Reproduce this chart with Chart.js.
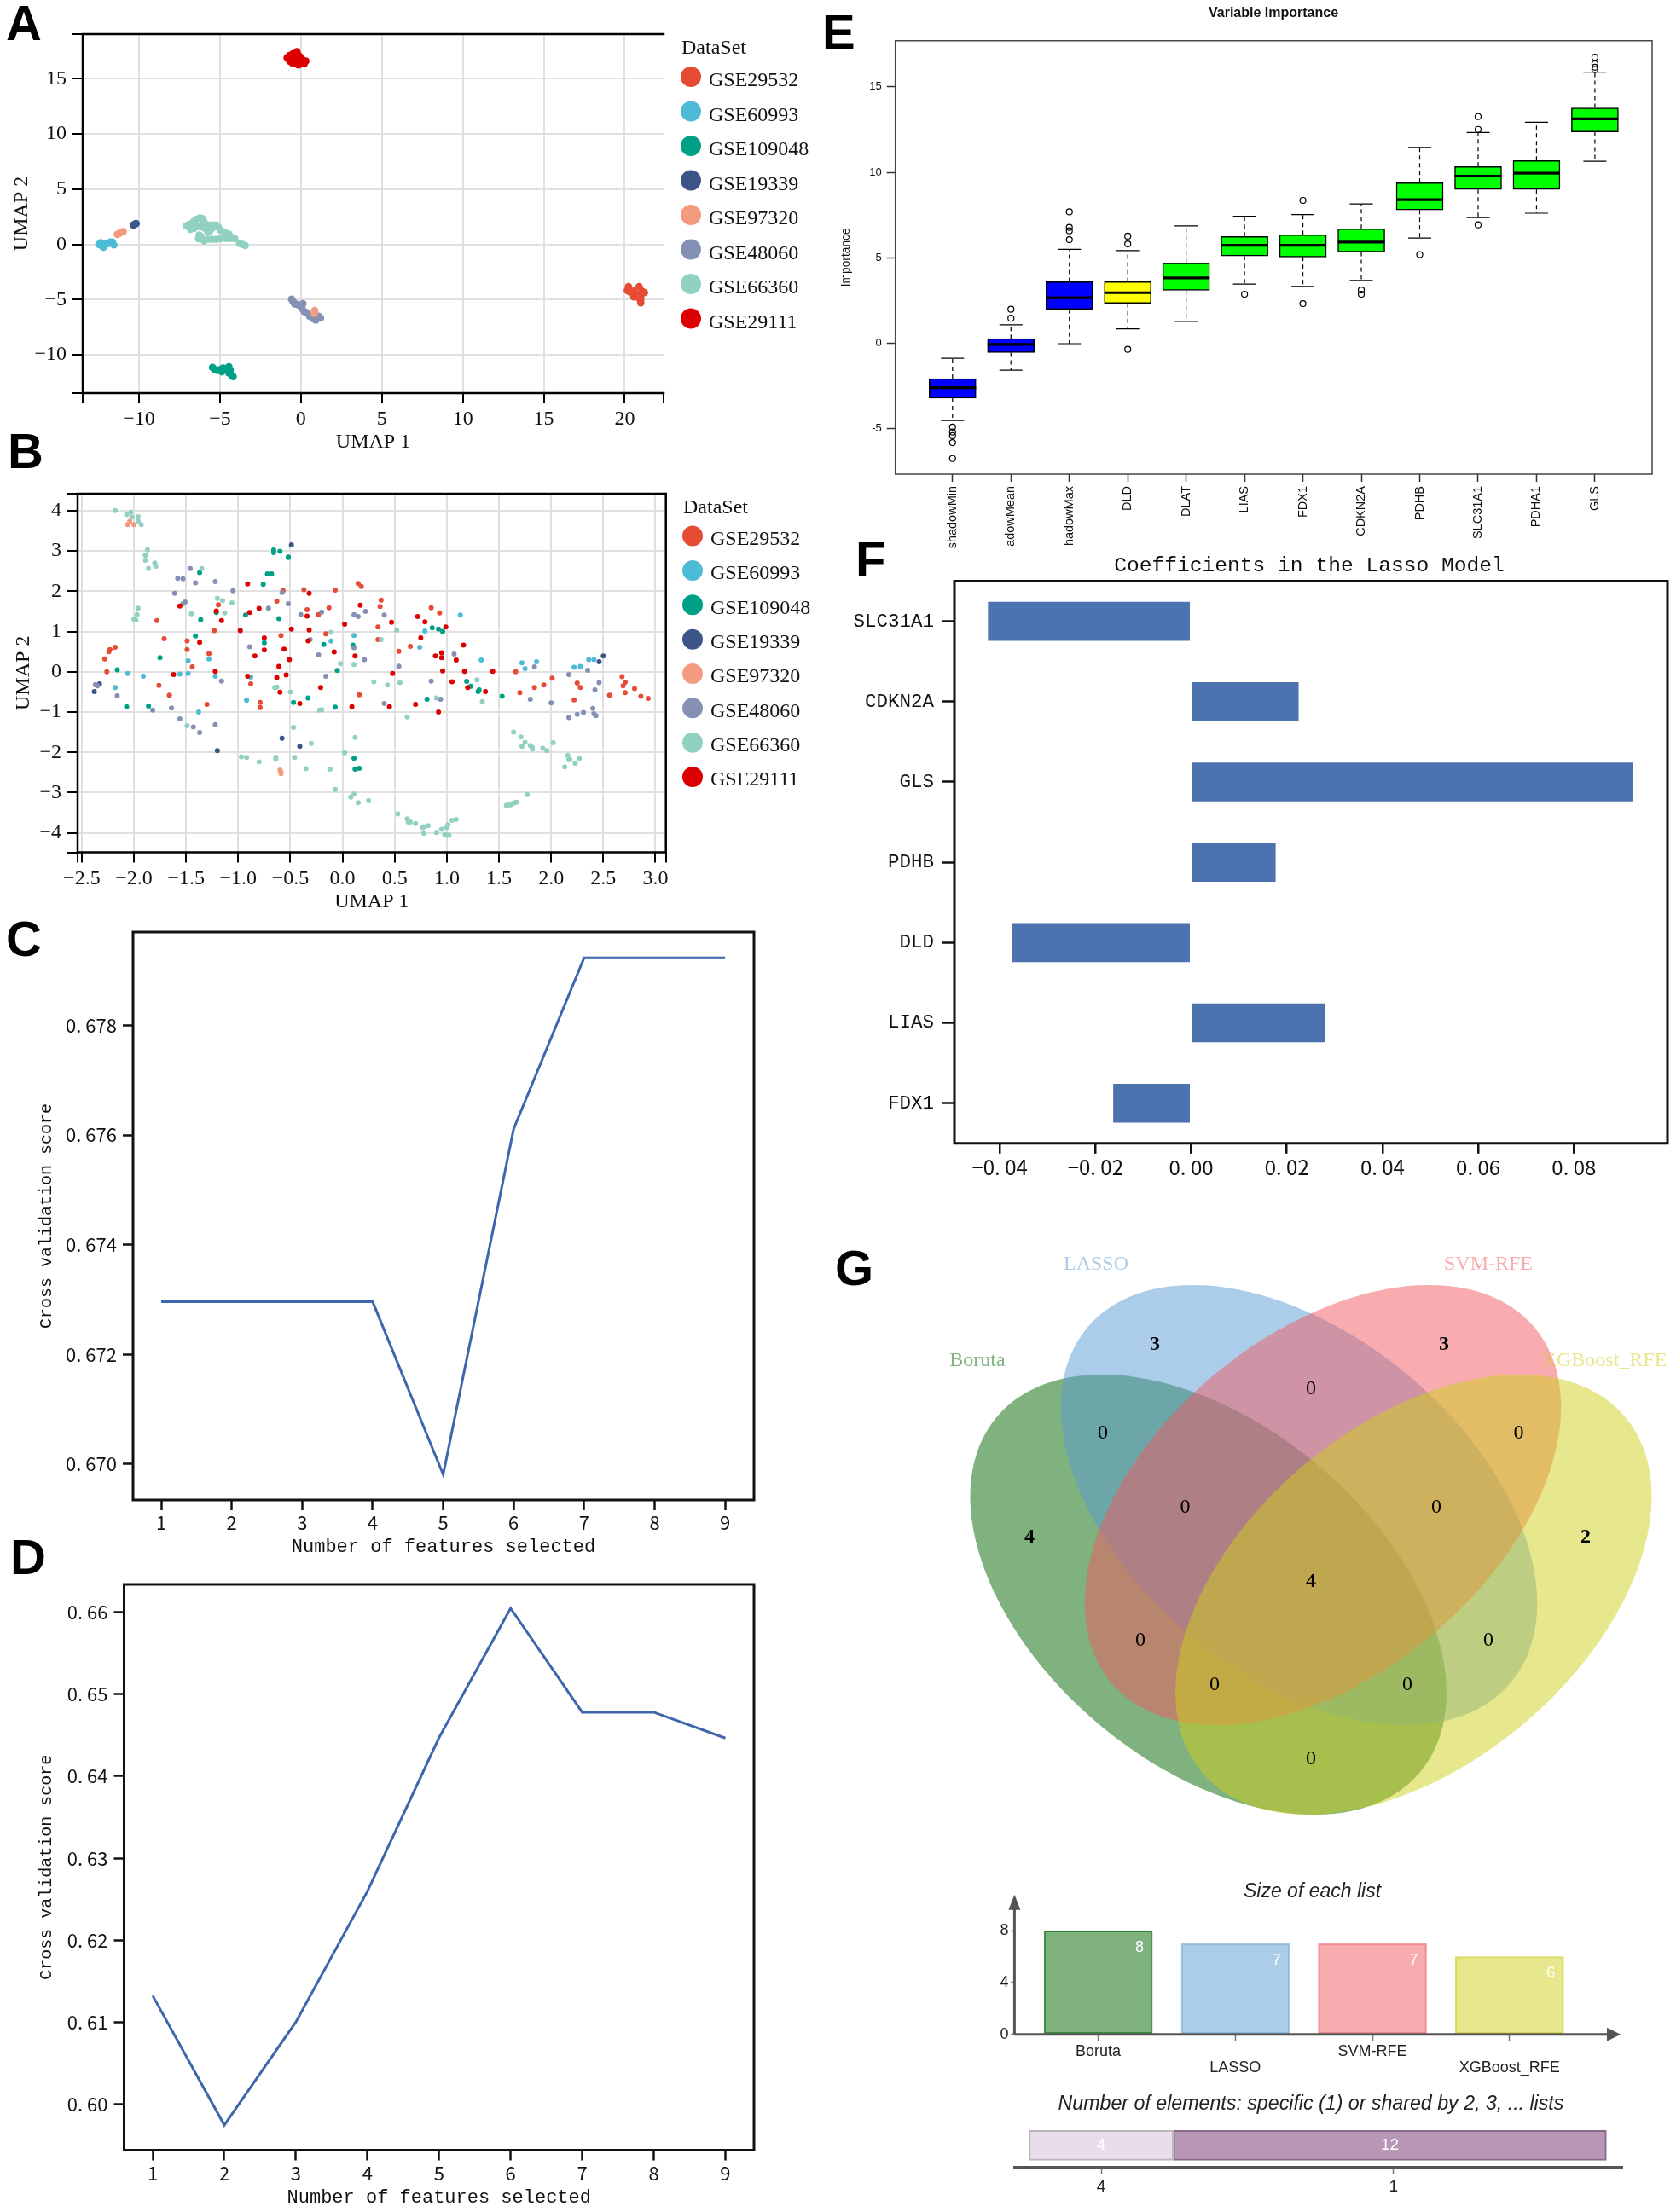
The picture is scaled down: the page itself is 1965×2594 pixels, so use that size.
<!DOCTYPE html>
<html>
<head>
<meta charset="utf-8">
<script src="https://cdn.jsdelivr.net/npm/chart.js@4"></script>
<style>
  html, body { margin: 0; padding: 0; background: #fff; }
  #page { position: relative; width: 1965px; height: 2594px; overflow: hidden; }
  canvas { position: absolute; }
  .tag { position: absolute; font: bold 58px/58px "Liberation Sans", Arial, sans-serif; color: #000; }
</style>
</head>
<body>
<div id="page"></div>
<script>
// ---- data: panel A (UMAP before batch correction)
const dataSets = ['GSE29532', 'GSE60993', 'GSE109048', 'GSE19339', 'GSE97320', 'GSE48060', 'GSE66360', 'GSE29111'];
const a29532 = [[20.23,-3.83],[20.16,-4.18],[20.56,-4.23],[20.89,-3.83],[21.05,-4.23],[21.22,-4.36],[20.56,-4.76],[20.89,-4.89],[20.99,-5.29],[20.7,-4.5],[21.0,-4.6],[20.99,-5.0],[20.3,-4.3]];
const a60993 = [[-12.48,0],[-12.37,0.15],[-12.27,-0.18],[-12.2,-0.25],[-12.09,0.08],[-11.95,0.05],[-11.77,0.2],[-11.65,0.2],[-11.56,-0.05],[-12.2,0.02]];
const a109048 = [[-5.46,-11.15],[-5.33,-11.33],[-5.16,-11.41],[-4.98,-11.33],[-4.81,-11.2],[-4.63,-11.28],[-4.45,-11.08],[-4.37,-11.38],[-4.45,-11.64],[-4.28,-11.85],[-4.19,-11.97],[-4.89,-11.54]];
const a19339 = [[-10.35,1.75],[-10.26,1.83],[-10.18,1.88]];
const a97320 = [[-11.34,0.9],[-11.21,1.0],[-11.07,1.11],[-10.98,1.16],[0.85,-6.0],[0.83,-6.26]];
const a48060 = [[-0.58,-4.97],[-0.49,-5.18],[-0.4,-5.38],[-0.23,-5.44],[-0.05,-5.56],[0.12,-5.38],[0.07,-5.82],[0.21,-6.08],[0.39,-6.21],[0.53,-6.51],[0.74,-6.72],[0.92,-6.67],[1.09,-6.51],[1.21,-6.67],[0.92,-6.85]];
const a66360 = [[-7.08,1.67],[-6.91,1.8],[-6.64,2.06],[-6.47,2.26],[-6.26,2.39],[-6.1,2.34],[-6.01,2.11],[-5.91,1.88],[-5.76,1.75],[-5.5,1.75],[-5.24,1.75],[-5.1,1.54],[-4.97,1.29],[-4.71,1.11],[-4.45,0.93],[-4.22,0.59],[-4.09,0.51],[-6.82,1.36],[-6.56,1.62],[-6.29,1.62],[-6.03,1.54],[-5.85,1.36],[-5.73,1.11],[-6.61,1.44],[-6.29,0.85],[-6.33,0.51],[-6.17,0.72],[-5.98,0.33],[-5.76,0.46],[-5.5,0.46],[-5.24,0.46],[-4.97,0.51],[-4.62,0.54],[-4.36,0.54],[-5.41,1.54],[-5.59,1.29],[-3.78,0.08],[-3.62,0],[-3.44,-0.1]];
const a29111 = [[-0.85,16.9],[-0.7,16.6],[-0.7,17.1],[-0.55,16.45],[-0.5,16.85],[-0.5,17.25],[-0.3,16.4],[-0.3,16.8],[-0.3,17.2],[-0.25,17.45],[-0.1,16.65],[-0.1,17.05],[0.05,16.4],[0.05,16.8],[0.2,16.35],[0.3,16.6],[-0.15,16.25],[0.1,16.6],[-0.6,16.7],[-0.4,17.0]];

// ---- data: panel B (UMAP after batch correction)
const b29532 = [[0.15,2.19],[0.18,2.12],[-0.57,2.01],[-0.37,2.04],[-0.07,2.03],[-0.63,1.75],[-1.19,1.66],[-0.34,1.54],[-0.13,1.59],[-0.23,1.42],[-1.78,1.27],[-1.23,1.02],[-0.16,0.94],[-0.59,0.9],[-1.71,0.82],[-1.49,0.77],[-1.49,0.55],[-2.18,0.61],[-2.23,0.55],[-2.24,0.5],[-2.28,0.32],[-2.26,0],[-1.28,0.45],[-1.44,0.12],[-0.88,-0.3],[-1.76,-0.34],[-1.66,-0.58],[-1.3,-0.81],[-0.79,-0.76],[-0.79,-0.89],[0.16,-0.57],[0.37,1.78],[0.36,1.62],[0.34,1.11],[0.34,0.8],[0.85,1.59],[0.93,1.46],[0.65,0.63],[0.54,0.51],[1.66,0],[2.01,-0.16],[1.93,-0.33],[1.84,-0.39],[1.7,-0.52],[2.22,-0.7],[2.25,-0.28],[2.28,-0.39],[2.56,-0.58],[2.68,-0.12],[2.71,-0.26],[2.69,-0.35],[2.71,-0.52],[2.8,-0.42],[2.86,-0.61],[2.93,-0.66]];
const b60993 = [[0.11,0.9],[-0.11,0.76],[-1.48,0.27],[-1.28,0.32],[-1.56,-0.06],[-1.48,-0.04],[-2.06,-0.04],[-1.91,-0.11],[-1.22,-0.11],[-0.88,-0.13],[-2.18,-0.39],[-0.92,-0.71],[-1.38,-1.0],[1.13,1.41],[0.79,1.01],[0.74,0.61],[1.33,0.29],[1.72,0.22],[1.75,0.08],[1.86,0.25],[2.22,0.11],[2.28,0.13],[2.36,0.3],[2.41,0.3]];
const b109048 = [[-0.66,3.02],[-0.66,2.96],[-0.6,2.99],[-0.52,2.85],[-0.52,2.84],[-0.72,2.43],[-0.68,2.43],[-0.76,2.17],[-1.37,2.46],[-0.93,1.41],[-0.61,1.32],[-1.21,1.47],[-1.36,1.29],[-1.41,0.89],[-0.75,0.72],[-0.18,0.68],[0.1,0.66],[-1.75,0.35],[-0.05,0.03],[-2.16,0.05],[-0.47,-0.76],[-0.33,-0.65],[-0.07,-0.88],[-2.07,-0.87],[-1.86,-0.85],[0.11,-2.15],[0.12,-2.42],[0.16,-2.4],[0.86,1.09],[0.92,1.06],[0.96,1.0],[1.19,-0.24],[1.23,-0.36],[1.31,-0.45],[1.3,-0.49],[1.53,-0.61],[0.81,-0.68]];
const b19339 = [[-0.49,3.15],[-2.33,-0.3],[-2.38,-0.49],[-0.58,-1.65],[-0.41,-1.85],[-1.2,-1.96],[2.5,0.39],[2.46,0.25]];
const b97320 = [[-2.06,3.65],[-2.04,3.73],[-2.0,3.65],[-0.6,-2.44],[-0.59,-2.49],[-0.59,-2.53]];
const b48060 = [[-1.46,2.56],[-1.58,2.32],[-1.53,2.31],[-1.41,2.21],[-1.22,2.24],[-1.05,2.01],[-1.61,1.95],[-1.51,1.73],[-1.53,1.69],[-0.58,1.97],[-0.52,1.69],[-0.71,1.58],[-0.4,1.42],[-0.2,1.48],[0.11,1.42],[0.15,1.37],[0.22,1.5],[-0.31,0.8],[-0.89,0.62],[0.11,0.6],[-0.23,0.42],[0.21,0.3],[-0.16,-0.11],[-1.16,-0.23],[-2.37,-0.32],[-2.35,-0.35],[-2.16,-0.6],[-1.82,-0.95],[-1.64,-0.9],[-1.56,-1.17],[-1.43,-1.37],[-1.37,-1.51],[-1.22,-1.31],[0.4,1.41],[1.07,0.44],[0.54,0.14],[0.85,-0.23],[0.4,-0.79],[0.94,-0.68],[1.84,0.12],[2.17,-0.07],[2.35,0.04],[2.46,-0.27],[2.42,-0.45],[1.8,-0.68],[2.0,-0.77],[2.17,-1.14],[2.25,-1.06],[2.31,-1.01],[2.4,-0.91],[2.41,-1.04],[2.43,-1.09]];
const b66360 = [[-2.18,4.0],[-2.07,3.9],[-2.03,3.96],[-2.02,3.84],[-1.96,3.85],[-1.96,3.74],[-1.93,3.65],[-1.87,3.03],[-1.89,2.89],[-1.89,2.77],[-1.8,2.7],[-1.79,2.62],[-1.86,2.56],[-1.35,2.56],[-1.96,1.58],[-1.97,1.42],[-2.0,1.31],[-1.98,1.28],[-1.45,1.44],[-1.2,1.82],[-1.15,1.77],[-1.06,1.71],[-1.13,1.46],[-0.11,0.98],[-0.02,0.2],[0.11,0.18],[-0.5,-0.5],[-0.65,-0.39],[-0.63,-0.38],[-0.22,-0.95],[-0.2,-0.94],[-0.47,-1.38],[-1.49,-1.34],[0.12,-1.63],[-0.3,-1.78],[0.02,-2.01],[-0.46,-2.13],[-0.97,-2.11],[-0.92,-2.13],[-0.8,-2.24],[-0.64,-2.12],[-0.64,-2.17],[-0.35,-2.41],[-0.12,-2.42],[-0.07,-2.92],[0.08,-3.11],[0.11,-3.04],[0.15,-3.25],[0.52,1.03],[0.37,0.8],[0.3,-0.25],[0.43,-0.33],[0.55,-0.27],[0.9,-0.65],[0.62,-1.12],[1.29,-0.2],[1.34,-0.74],[0.25,-3.2],[1.64,-1.5],[1.71,-1.62],[1.75,-1.75],[1.72,-1.85],[1.8,-1.83],[1.82,-1.88],[1.82,-1.92],[1.92,-1.9],[1.96,-1.96],[2.02,-1.76],[2.16,-2.08],[2.18,-2.18],[2.17,-2.18],[2.23,-2.27],[2.13,-2.36],[2.27,-2.15],[1.77,-3.05],[1.57,-3.32],[1.59,-3.31],[1.61,-3.3],[1.63,-3.27],[1.65,-3.25],[1.67,-3.24],[0.53,-3.53],[0.62,-3.65],[0.63,-3.73],[0.65,-3.73],[0.7,-3.77],[0.78,-3.85],[0.77,-3.87],[0.82,-3.82],[0.78,-4.01],[0.9,-3.99],[0.95,-3.91],[1.0,-3.87],[1.01,-3.8],[1.05,-3.69],[1.09,-3.67],[0.98,-4.04],[1.0,-4.06],[1.02,-4.06]];
const b29111 = [[-0.91,2.18],[-0.32,1.95],[-1.56,1.63],[-1.21,1.51],[-1.16,1.27],[-0.89,1.47],[-0.8,1.57],[-0.34,1.38],[0.17,1.65],[0.02,1.18],[-0.98,1.02],[-0.49,1.06],[-0.32,1.04],[-0.75,0.84],[-0.33,0.77],[-1.37,0.73],[-0.75,0.54],[-0.56,0.56],[-0.08,0.49],[0.12,0.39],[-0.84,0.39],[-0.51,0.3],[-0.61,0.13],[-1.22,0.01],[-1.62,-0.07],[-0.91,-0.11],[-0.63,-0.14],[-0.54,-0.08],[-0.21,-0.39],[-0.6,-0.51],[-0.41,-0.79],[0.09,-0.87],[0.47,1.23],[0.72,1.37],[0.79,1.24],[0.99,1.11],[0.75,0.84],[1.16,0.66],[0.95,0.47],[0.89,0.39],[0.95,0.35],[1.09,0.29],[0.96,0.02],[1.17,0.01],[1.44,0.01],[0.48,-0.04],[1.05,-0.25],[1.2,-0.39],[1.37,-0.49],[0.45,-0.87],[0.7,-0.81],[0.92,-1.0]];

// ---- data: panels C and D (cross validation curves)
const featureCounts = [1, 2, 3, 4, 5, 6, 7, 8, 9];
const cvScoresC = [0.67296, 0.67296, 0.67296, 0.67296, 0.66981, 0.67611, 0.67923, 0.67923, 0.67923];
const cvScoresD = [0.61324, 0.59747, 0.61004, 0.62597, 0.6447, 0.66048, 0.6478, 0.6478, 0.64465];
const cvTicksC = [0.670, 0.672, 0.674, 0.676, 0.678];
const cvTicksD = [0.60, 0.61, 0.62, 0.63, 0.64, 0.65, 0.66];

// ---- data: panel E (Boruta importance boxes)
const boxNames = ['shadowMin', 'adowMean', 'hadowMax', 'DLD', 'DLAT', 'LIAS', 'FDX1', 'CDKN2A', 'PDHB', 'SLC31A1', 'PDHA1', 'GLS'];
const boxWhiskLow = [-4.51, -1.57, -0.02, 0.85, 1.28, 3.47, 3.33, 3.68, 6.16, 7.36, 7.61, 10.65];
const boxQ1 = [-3.21, -0.54, 1.99, 2.34, 3.1, 5.11, 5.05, 5.34, 7.8, 9.0, 9.0, 12.37];
const boxMedian = [-2.59, -0.06, 2.67, 2.96, 3.83, 5.73, 5.73, 5.92, 8.4, 9.78, 9.95, 13.13];
const boxQ3 = [-2.07, 0.27, 3.6, 3.6, 4.69, 6.25, 6.35, 6.7, 9.39, 10.34, 10.69, 13.77];
const boxWhiskHigh = [-0.87, 1.08, 5.5, 5.42, 6.87, 7.43, 7.53, 8.15, 11.46, 12.33, 12.93, 15.86];
const boxColors = ['#0000ff', '#0000ff', '#0000ff', '#ffff00', '#00ff00', '#00ff00', '#00ff00', '#00ff00', '#00ff00', '#00ff00', '#00ff00', '#00ff00'];
const boxOutliers = [[-4.9,-5.19,-5.4,-5.81,-6.74],[1.99,1.47],[7.69,6.78,6.58,6.06],[6.27,5.81,-0.35],[],[2.87],[8.36,2.32],[3.12,2.87],[5.19],[13.26,12.51,6.93],[],[16.73,16.34,16.15,16.01]];

// ---- data: panel F (lasso coefficients)
const lassoGenes = ['SLC31A1', 'CDKN2A', 'GLS', 'PDHB', 'DLD', 'LIAS', 'FDX1'];
const lassoCoefs = [-0.0424, 0.0224, 0.09234, 0.0176, -0.03737, 0.02789, -0.01623];
const lassoTicks = [-0.04, -0.02, 0, 0.02, 0.04, 0.06, 0.08];

// ---- data: panel G (venn + the two small bar charts)
const vennNames = ['Boruta', 'LASSO', 'SVM-RFE', 'XGBoost_RFE'];
const vennColors = ['#006600', '#5a9bd4', '#f15a60', '#cfcf1b'];
const vennRegionCounts = [3, 3, 0, 0, 0, 0, 0, 4, 2, 4, 0, 0, 0, 0, 0];
const listSizes = [8, 7, 7, 6];
const sharedByLists = ['4', '1'];
const sharedCounts = [4, 12];

// ---- layout of the figure (page pixels)
const vennEllipses = [[1416.7, 1870, 40], [1523, 1765, 40], [1551, 1765, -40], [1657.3, 1870, -40]];
const vennRegionX = [1354, 1693, 1537, 1293, 1780.5, 1389.5, 1684, 1207, 1859, 1537, 1337, 1745, 1424, 1650, 1537];
const vennRegionY = [1577, 1577, 1629, 1681, 1681, 1768, 1768, 1803, 1803, 1855, 1924, 1924, 1976, 1976, 2063];
const vennLabelPos = [[1146, 1596], [1285, 1483], [1745, 1483], [1881, 1596]];
const panelTags = [['A', 7, -2], ['B', 9, 500], ['C', 7, 1072], ['D', 12, 1797], ['E', 964, 9], ['F', 1003, 627], ['G', 979, 1458]];

const npgColors = ['#E64B35', '#4DBBD5', '#00A087', '#3C5488', '#F39B7F', '#8491B4', '#91D1C2', '#DC0000'];
const SERIF = '"Liberation Serif", "Times New Roman", serif';
const SANS = '"Liberation Sans", Arial, sans-serif';
const MONO = '"Liberation Mono", monospace';
const CJK = '"Noto Sans CJK SC", sans-serif';

Chart.defaults.animation = false;
Chart.defaults.color = '#111';

// Draws text / legend dots given in page coordinates on top of the chart
const annotate = {
  id: 'annotate',
  afterDraw(chart, args, opts) {
    const ctx = chart.ctx;
    const box = opts.box;
    (opts.items || []).forEach(it => {
      ctx.save();
      if (it.dot) {
        ctx.fillStyle = it.dot;
        ctx.beginPath();
        ctx.arc(it.x - box.x, it.y - box.y, it.r, 0, Math.PI * 2);
        ctx.fill();
      } else {
        ctx.font = it.font;
        ctx.fillStyle = it.color || '#111';
        ctx.textAlign = it.align || 'center';
        ctx.textBaseline = 'middle';
        ctx.fillText(it.text, it.x - box.x, it.y - box.y);
      }
      ctx.restore();
    });
  }
};

// Axis frame around the plot area; sides is a string out of 'ltrb'
const frame = {
  id: 'frame',
  afterDraw(chart, args, opts) {
    if (!opts.sides) return;
    const { left, right, top, bottom } = chart.chartArea;
    const ctx = chart.ctx;
    ctx.save();
    ctx.strokeStyle = opts.color;
    ctx.lineWidth = opts.width;
    ctx.lineCap = 'square';
    ctx.beginPath();
    if (opts.sides.includes('l')) { ctx.moveTo(left, top); ctx.lineTo(left, bottom); }
    if (opts.sides.includes('r')) { ctx.moveTo(right, top); ctx.lineTo(right, bottom); }
    if (opts.sides.includes('t')) { ctx.moveTo(left, top); ctx.lineTo(right, top); }
    if (opts.sides.includes('b')) { ctx.moveTo(left, bottom); ctx.lineTo(right, bottom); }
    ctx.stroke();
    ctx.restore();
  }
};
Chart.register(annotate, frame);

function makeCanvas(box) {
  const c = document.createElement('canvas');
  c.width = box.w;
  c.height = box.h;
  c.style.left = box.x + 'px';
  c.style.top = box.y + 'px';
  c.style.width = box.w + 'px';
  c.style.height = box.h + 'px';
  document.getElementById('page').appendChild(c);
  return c;
}

// Forces the plot area of a chart onto a given rectangle of the page
function baseOptions(box, plot) {
  return {
    responsive: false,
    devicePixelRatio: 1,
    layout: {
      autoPadding: false,
      padding: { left: 0, top: plot.y - box.y, right: box.x + box.w - plot.x - plot.w, bottom: 0 }
    },
    plugins: { legend: { display: false }, tooltip: { enabled: false }, title: { display: false } }
  };
}
const fitY = (box, plot) => s => { s.width = plot.x - box.x; };
const fitX = (box, plot) => s => { s.height = box.y + box.h - plot.y - plot.h; };

function toPoints(pairs) { return pairs.map(p => ({ x: p[0], y: p[1] })); }
function fmtMinus(v, digits) { return (v < 0 ? '\u2212' : '') + Math.abs(v).toFixed(digits); }

// ---- panels A, B
function umapPanel(cfg) {
  const { box, plot, series, xr, yr, xticks, yticks, digits } = cfg;
  const makeScale = (range, ticks, axisDigits) => ({
    type: 'linear', min: range[0], max: range[1],
    afterBuildTicks: s => { s.ticks = [range[0], ...ticks, range[1]].map(v => ({ value: v })); },
    border: { display: false },
    grid: {
      lineWidth: 2, tickWidth: 2, tickLength: 12, tickColor: '#000',
      color: c => (c.tick && ticks.includes(c.tick.value) ? '#e0e0e0' : 'transparent')
    },
    ticks: {
      autoSkip: false, maxRotation: 0, color: '#111',
      font: { family: SERIF, size: 24, lineHeight: 1 },
      padding: 7,
      callback: v => (ticks.includes(v) ? fmtMinus(v, axisDigits) : '')
    }
  });
  const opts = baseOptions(box, plot);
  const legendItems = [{ text: 'DataSet', x: cfg.legend.x, y: cfg.legend.titleY, font: '24px ' + SERIF, align: 'left' }];
  dataSets.forEach((name, i) => {
    legendItems.push({ dot: npgColors[i], x: cfg.legend.dotX, y: cfg.legend.y + i * cfg.legend.step, r: 12 });
    legendItems.push({ text: name, x: cfg.legend.dotX + 21, y: cfg.legend.y + i * cfg.legend.step + cfg.legend.textDy, font: '24px ' + SERIF, align: 'left' });
  });
  opts.plugins.annotate = { box, items: legendItems };
  opts.plugins.frame = { sides: cfg.sides, color: '#000', width: 2.5 };
  const xs = makeScale(xr, xticks, digits);
  xs.afterFit = fitX(box, plot);
  xs.title = { display: true, text: 'UMAP 1', color: '#111', font: { family: SERIF, size: 24, lineHeight: 1 }, padding: { top: 0, bottom: box.y + box.h - cfg.xTitleY - 12 } };
  const ys = makeScale(yr, yticks, 0);
  ys.afterFit = fitY(box, plot);
  ys.title = { display: true, text: 'UMAP 2', color: '#111', font: { family: SERIF, size: 24, lineHeight: 1 }, padding: { top: cfg.yTitleX - box.x - 12, bottom: 0 } };
  opts.scales = { x: xs, y: ys };
  return new Chart(makeCanvas(box), {
    type: 'scatter',
    data: {
      datasets: series.map((pts, i) => ({
        label: dataSets[i],
        data: toPoints(pts),
        backgroundColor: npgColors[i],
        borderWidth: 0,
        pointRadius: cfg.r,
        order: (cfg.onTop === i) ? -99 : -i
      }))
    },
    options: opts
  });
}

umapPanel({
  box: { x: 0, y: 0, w: 960, h: 535 }, plot: { x: 97, y: 40, w: 681, h: 421 },
  series: [a29532, a60993, a109048, a19339, a97320, a48060, a66360, a29111],
  xr: [-13.48, 22.4], yr: [-13.47, 19.04],
  xticks: [-10, -5, 0, 5, 10, 15, 20], yticks: [-10, -5, 0, 5, 10, 15], digits: 0,
  r: 4.4, sides: 'ltb', onTop: 4, xTitleY: 519, yTitleX: 26,
  legend: { x: 799, titleY: 57, dotX: 810, y: 90, step: 40.5, textDy: 5 }
});
umapPanel({
  box: { x: 0, y: 560, w: 960, h: 510 }, plot: { x: 91, y: 578, w: 689.7, h: 421.6 },
  series: [b29532, b60993, b109048, b19339, b97320, b48060, b66360, b29111],
  xr: [-2.54, 3.1], yr: [-4.485, 4.42],
  xticks: [-2.5, -2, -1.5, -1, -0.5, 0, 0.5, 1, 1.5, 2, 2.5, 3], yticks: [-4, -3, -2, -1, 0, 1, 2, 3, 4], digits: 1,
  r: 3, sides: 'ltrb', xTitleY: 1057.5, yTitleX: 28,
  legend: { x: 801, titleY: 596, dotX: 812, y: 628.6, step: 40.35, textDy: 4 }
});

// ---- panels C, D
function cvPanel(box, plot, scores, xr, yr, yticks, digits, xTitleY) {
  const opts = baseOptions(box, plot);
  opts.plugins.frame = { sides: 'ltrb', color: '#111', width: 3 };
  opts.scales = {
    x: {
      type: 'linear', min: xr[0], max: xr[1], afterFit: fitX(box, plot),
      afterBuildTicks: s => { s.ticks = featureCounts.map(v => ({ value: v })); },
      border: { display: false },
      grid: { drawOnChartArea: false, tickLength: 12, tickWidth: 2.5, tickColor: '#111' },
      ticks: { autoSkip: false, maxRotation: 0, padding: 4, color: '#111', font: { family: CJK, size: 22, lineHeight: 1 } },
      title: { display: true, text: 'Number of features selected', color: '#111', font: { family: MONO, size: 22, lineHeight: 1 }, padding: { top: 0, bottom: box.y + box.h - xTitleY - 11 } }
    },
    y: {
      type: 'linear', min: yr[0], max: yr[1], afterFit: fitY(box, plot),
      afterBuildTicks: s => { s.ticks = yticks.map(v => ({ value: v })); },
      border: { display: false },
      grid: { drawOnChartArea: false, tickLength: 12, tickWidth: 2.5, tickColor: '#111' },
      ticks: { autoSkip: false, padding: 7, color: '#111', font: { family: CJK, size: 22, lineHeight: 1 }, callback: v => '0. ' + v.toFixed(digits).slice(2) },
      title: { display: true, text: 'Cross validation score', color: '#111', font: { family: MONO, size: 20, lineHeight: 1 }, padding: { top: 54.6 - box.x - 10, bottom: 0 } }
    }
  };
  return new Chart(makeCanvas(box), {
    type: 'line',
    data: { datasets: [{ data: featureCounts.map((f, i) => ({ x: f, y: scores[i] })), borderColor: '#3d66ad', borderWidth: 3, pointRadius: 0, tension: 0 }] },
    options: opts
  });
}
cvPanel({ x: 0, y: 1075, w: 930, h: 760 }, { x: 156, y: 1088.5, w: 728, h: 670.5 }, cvScoresC, [0.6, 9.41], [0.669347, 0.6797], cvTicksC, 3, 1814.5);
cvPanel({ x: 0, y: 1840, w: 930, h: 754 }, { x: 145.5, y: 1849.5, w: 738.5, h: 672 }, cvScoresD, [0.6, 9.4], [0.59441, 0.66339], cvTicksD, 2, 2577.5);

// ---- panel E
const whiskers = {
  id: 'whiskers',
  afterDatasetsDraw(chart) {
    const { x: xs, y: ys } = chart.scales;
    const ctx = chart.ctx;
    const capHalf = 13.5, boxHalf = 27.5;
    ctx.save();
    ctx.strokeStyle = '#000';
    boxNames.forEach((n, i) => {
      const px = xs.getPixelForValue(i + 1);
      ctx.lineWidth = 1.2;
      ctx.setLineDash([5, 4]);
      ctx.beginPath();
      ctx.moveTo(px, ys.getPixelForValue(boxQ3[i])); ctx.lineTo(px, ys.getPixelForValue(boxWhiskHigh[i]));
      ctx.moveTo(px, ys.getPixelForValue(boxQ1[i])); ctx.lineTo(px, ys.getPixelForValue(boxWhiskLow[i]));
      ctx.stroke();
      ctx.setLineDash([]);
      ctx.beginPath();
      ctx.moveTo(px - capHalf, ys.getPixelForValue(boxWhiskHigh[i])); ctx.lineTo(px + capHalf, ys.getPixelForValue(boxWhiskHigh[i]));
      ctx.moveTo(px - capHalf, ys.getPixelForValue(boxWhiskLow[i])); ctx.lineTo(px + capHalf, ys.getPixelForValue(boxWhiskLow[i]));
      ctx.stroke();
      ctx.lineWidth = 3.2;
      ctx.beginPath();
      ctx.moveTo(px - boxHalf, ys.getPixelForValue(boxMedian[i])); ctx.lineTo(px + boxHalf, ys.getPixelForValue(boxMedian[i]));
      ctx.stroke();
    });
    ctx.restore();
  }
};
(function () {
  const box = { x: 960, y: 0, w: 1005, h: 665 };
  const plot = { x: 1049.7, y: 47.7, w: 887.3, h: 508.3 };
  const opts = baseOptions(box, plot);
  opts.plugins.frame = { sides: 'ltrb', color: '#444', width: 1.5 };
  opts.plugins.annotate = { box, items: [{ text: 'Variable Importance', x: 1493, y: 16, font: 'bold 16px ' + SANS }] };
  opts.scales = {
    x: {
      type: 'linear', min: 0.02, max: 12.98, offset: false, afterFit: fitX(box, plot),
      afterBuildTicks: s => { s.ticks = boxNames.map((n, i) => ({ value: i + 1 })); },
      border: { display: false },
      grid: { drawOnChartArea: false, offset: false, tickLength: 9, tickWidth: 1.5, tickColor: '#333' },
      ticks: { autoSkip: false, minRotation: 90, maxRotation: 90, padding: 5, color: '#111', font: { family: SANS, size: 14.5 }, callback: v => boxNames[v - 1] }
    },
    y: {
      type: 'linear', min: -7.65, max: 17.7, afterFit: fitY(box, plot),
      afterBuildTicks: s => { s.ticks = [-5, 0, 5, 10, 15].map(v => ({ value: v })); },
      border: { display: false },
      grid: { drawOnChartArea: false, tickLength: 10, tickWidth: 1.5, tickColor: '#333' },
      ticks: { autoSkip: false, padding: 6, color: '#111', font: { family: SANS, size: 13 }, callback: v => String(v) },
      title: { display: true, text: 'Importance', color: '#111', font: { family: SANS, size: 13.8, lineHeight: 1 }, padding: { top: 992 - box.x - 7, bottom: 0 } }
    }
  };
  const outlierPts = [];
  boxOutliers.forEach((list, i) => list.forEach(v => outlierPts.push({ x: i + 1, y: v })));
  new Chart(makeCanvas(box), {
    type: 'bar',
    data: {
      datasets: [
        { data: boxNames.map((n, i) => ({ x: i + 1, y: [boxQ1[i], boxQ3[i]] })), backgroundColor: boxColors, borderColor: '#000', borderWidth: 1.5, borderSkipped: false, barThickness: 55 },
        { type: 'scatter', data: outlierPts, backgroundColor: 'transparent', borderColor: '#000', borderWidth: 1.2, pointRadius: 3.5 }
      ]
    },
    options: opts,
    plugins: [whiskers]
  });
})();

// ---- panel F
(function () {
  const box = { x: 1000, y: 640, w: 965, h: 745 };
  const plot = { x: 1119, y: 681.5, w: 836, h: 659.3 };
  const opts = baseOptions(box, plot);
  opts.indexAxis = 'y';
  opts.plugins.frame = { sides: 'ltrb', color: '#111', width: 3 };
  opts.plugins.annotate = { box, items: [{ text: 'Coefficients in the Lasso Model', x: 1535, y: 663.6, font: '24.6px ' + MONO }] };
  opts.scales = {
    x: {
      type: 'linear', min: -0.04947, max: 0.09955, afterFit: fitX(box, plot),
      afterBuildTicks: s => { s.ticks = lassoTicks.map(v => ({ value: v })); },
      border: { display: false },
      grid: { z: 1, lineWidth: 2.5, color: c => (c.tick && c.tick.value === 0 ? '#fff' : 'transparent'), tickLength: 12, tickWidth: 2.5, tickColor: '#111' },
      ticks: { autoSkip: false, maxRotation: 0, padding: 4, color: '#111', font: { family: CJK, size: 24, lineHeight: 1 }, callback: v => (v < 0 ? '\u2212' : '') + Math.abs(v).toFixed(2).replace('.', '. ') }
    },
    y: {
      type: 'category', labels: lassoGenes, afterFit: fitY(box, plot),
      border: { display: false },
      grid: { drawOnChartArea: false, offset: false, tickLength: 15, tickWidth: 2.5, tickColor: '#111' },
      ticks: { autoSkip: false, padding: 9, color: '#111', font: { family: MONO, size: 22.5, lineHeight: 1 } }
    }
  };
  new Chart(makeCanvas(box), {
    type: 'bar',
    data: { labels: lassoGenes, datasets: [{ data: lassoCoefs, backgroundColor: '#4c72b0', barThickness: 45 }] },
    options: opts
  });
})();

// ---- panel G: venn diagram, scales run in page pixels
const vennShapes = {
  id: 'vennShapes',
  beforeDatasetsDraw(chart) {
    const { x: xs, y: ys } = chart.scales;
    const ctx = chart.ctx;
    ctx.save();
    vennEllipses.forEach((e, i) => {
      ctx.globalAlpha = 0.5;
      ctx.fillStyle = vennColors[i];
      ctx.beginPath();
      ctx.ellipse(xs.getPixelForValue(e[0]), ys.getPixelForValue(e[1]), 324, 199, e[2] * Math.PI / 180, 0, Math.PI * 2);
      ctx.fill();
    });
    ctx.restore();
  },
  afterDatasetsDraw(chart) {
    const ctx = chart.ctx;
    const pts = chart.getDatasetMeta(0).data;
    ctx.save();
    ctx.textAlign = 'center';
    ctx.textBaseline = 'middle';
    ctx.fillStyle = '#000';
    pts.forEach((p, i) => {
      const n = vennRegionCounts[i];
      ctx.font = (n > 0 ? 'bold ' : '') + '24px ' + SERIF;
      ctx.fillText(String(n), p.x, p.y);
    });
    ctx.globalAlpha = 0.5;
    ctx.font = '24px ' + SERIF;
    vennNames.forEach((name, i) => {
      ctx.fillStyle = vennColors[i];
      ctx.fillText(name, chart.scales.x.getPixelForValue(vennLabelPos[i][0]), chart.scales.y.getPixelForValue(vennLabelPos[i][1]));
    });
    ctx.restore();
  }
};
(function () {
  const box = { x: 1100, y: 1460, w: 865, h: 680 };
  const opts = baseOptions(box, { x: box.x, y: box.y, w: box.w, h: box.h });
  opts.scales = {
    x: { type: 'linear', display: false, min: box.x, max: box.x + box.w },
    y: { type: 'linear', display: false, reverse: true, min: box.y, max: box.y + box.h }
  };
  new Chart(makeCanvas(box), {
    type: 'scatter',
    data: { datasets: [{ data: vennRegionCounts.map((n, i) => ({ x: vennRegionX[i], y: vennRegionY[i] })), pointRadius: 0 }] },
    options: opts,
    plugins: [vennShapes]
  });
})();

// ---- panel G: size of each list
const listArrows = {
  id: 'listArrows',
  afterDraw(chart) {
    const { left, right, top, bottom } = chart.chartArea;
    const ctx = chart.ctx;
    ctx.save();
    ctx.strokeStyle = '#555';
    ctx.fillStyle = '#555';
    ctx.lineWidth = 3;
    ctx.beginPath();
    ctx.moveTo(left, bottom); ctx.lineTo(left, top + 8);
    ctx.moveTo(left, bottom); ctx.lineTo(right - 8, bottom);
    ctx.stroke();
    ctx.beginPath();
    ctx.moveTo(left, top); ctx.lineTo(left - 7, top + 18); ctx.lineTo(left + 7, top + 18); ctx.closePath();
    ctx.moveTo(right, bottom); ctx.lineTo(right - 16, bottom - 8); ctx.lineTo(right - 16, bottom + 8); ctx.closePath();
    ctx.fill();
    // value inside every bar, upper right corner
    ctx.fillStyle = '#fff';
    ctx.font = '18px ' + SANS;
    ctx.textAlign = 'center';
    ctx.textBaseline = 'middle';
    chart.getDatasetMeta(0).data.forEach((bar, i) => {
      ctx.fillText(String(listSizes[i]), bar.x + bar.width / 2 - 15, bar.y + 20);
    });
    ctx.restore();
  }
};
(function () {
  const box = { x: 1100, y: 2205, w: 865, h: 280 };
  const plot = { x: 1189.4, y: 2221.7, w: 710.6, h: 164 };
  const opts = baseOptions(box, plot);
  opts.plugins.annotate = { box, items: [
    { text: 'Size of each list', x: 1538.5, y: 2219, font: 'italic 23px ' + SANS, color: '#222' },
    { text: 'Number of elements: specific (1) or shared by 2, 3, ... lists', x: 1537, y: 2468, font: 'italic 23.2px ' + SANS, color: '#222' }
  ] };
  opts.scales = {
    x: {
      type: 'linear', min: 0.389, max: 4.81, offset: false, afterFit: fitX(box, plot),
      afterBuildTicks: s => { s.ticks = vennNames.map((n, i) => ({ value: i + 1 })); },
      border: { display: false },
      grid: { drawOnChartArea: false, offset: false, tickLength: 8, tickWidth: 1.5, tickColor: '#777' },
      ticks: {
        autoSkip: false, maxRotation: 0, padding: 2, color: '#222',
        font: { family: SANS, size: 18, lineHeight: 1.1 },
        callback: v => (v % 2 === 0 ? ['', vennNames[v - 1]] : vennNames[v - 1])
      }
    },
    y: {
      type: 'linear', min: 0, max: 10.79, afterFit: fitY(box, plot),
      afterBuildTicks: s => { s.ticks = [0, 4, 8].map(v => ({ value: v })); },
      border: { display: false },
      grid: { drawOnChartArea: false, tickLength: 4, tickWidth: 1.5, tickColor: '#777' },
      ticks: { autoSkip: false, padding: 3, color: '#222', font: { family: SANS, size: 18 } }
    }
  };
  new Chart(makeCanvas(box), {
    type: 'bar',
    data: {
      datasets: [{
        data: listSizes.map((v, i) => ({ x: i + 1, y: v })),
        backgroundColor: vennColors.map(c => c + '80'),
        borderColor: ['#4f944f', '#a6c8e6', '#f29ea3', '#dcdc6e'],
        borderWidth: 1.5, borderSkipped: false, barThickness: 127
      }]
    },
    options: opts,
    plugins: [listArrows]
  });
})();

// ---- panel G: number of elements shared by lists
(function () {
  const box = { x: 1100, y: 2480, w: 865, h: 114 };
  const plot = { x: 1189.4, y: 2490, w: 713, h: 51.7 };
  const opts = baseOptions(box, plot);
  opts.layout.padding.left = plot.x - box.x;
  opts.indexAxis = 'y';
  opts.scales = {
    x: {
      type: 'linear', stacked: true, min: -0.404, max: 16.45, afterFit: fitX(box, plot),
      afterBuildTicks: s => { s.ticks = [2, 10.1].map(v => ({ value: v })); },
      border: { display: true, color: '#555', width: 3 },
      grid: { drawOnChartArea: false, tickLength: 8, tickWidth: 1.5, tickColor: '#777' },
      ticks: { autoSkip: false, maxRotation: 0, padding: 6, color: '#222', font: { family: SANS, size: 19, lineHeight: 1 }, callback: v => (v === 2 ? sharedByLists[0] : sharedByLists[1]) }
    },
    y: { type: 'category', display: false, stacked: true, labels: ['shared'] }
  };
  const sharedText = {
    id: 'sharedText',
    afterDatasetsDraw(chart) {
      const ctx = chart.ctx;
      ctx.save();
      ctx.fillStyle = '#fff';
      ctx.font = '19px ' + SANS;
      ctx.textAlign = 'center';
      ctx.textBaseline = 'middle';
      sharedCounts.forEach((n, i) => {
        const bar = chart.getDatasetMeta(i).data[0];
        ctx.fillText(String(n), (bar.x + bar.base) / 2, bar.y);
      });
      ctx.restore();
    }
  };
  new Chart(makeCanvas(box), {
    type: 'bar',
    data: {
      labels: ['shared'],
      datasets: [
        { data: [sharedCounts[0]], backgroundColor: '#E9DCEB', borderColor: '#bdb7bd', borderWidth: 2, borderSkipped: false, barThickness: 35 },
        { data: [sharedCounts[1]], backgroundColor: '#B996B6', borderColor: '#8b6a8c', borderWidth: 2, borderSkipped: false, barThickness: 35 }
      ]
    },
    options: opts,
    plugins: [sharedText]
  });
})();

// ---- panel letters
panelTags.forEach(t => {
  const d = document.createElement('div');
  d.className = 'tag';
  d.textContent = t[0];
  d.style.left = t[1] + 'px';
  d.style.top = t[2] + 'px';
  document.getElementById('page').appendChild(d);
});
</script>
</body>
</html>
